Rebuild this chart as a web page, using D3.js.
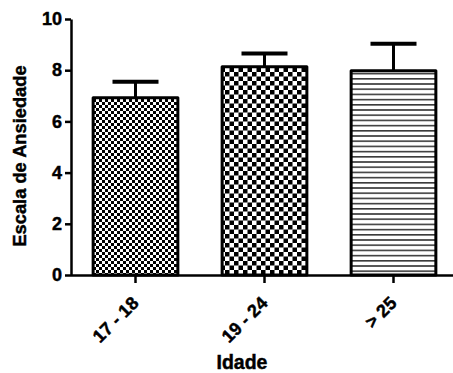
<!DOCTYPE html>
<html>
<head>
<meta charset="utf-8">
<script src="https://cdn.jsdelivr.net/npm/d3@7"></script>
<style>
  html, body { margin: 0; padding: 0; background: #fff; }
  svg { display: block; font-family: "Liberation Sans", Arial, sans-serif; font-weight: bold; }
  text { stroke: #000; stroke-width: 0.45px; fill: #000; }
</style>
</head>
<body>
<svg id="chart" width="453" height="373"></svg>
<script>
// Age groups and anxiety scale means with their error (upper bar)
const categories = ["17 - 18", "19 - 24", "> 25"];
const means = [6.92, 8.13, 7.98];
const errors = [0.63, 0.52, 1.05];
const yTicks = [0, 2, 4, 6, 8, 10];
const patterns = ["checkFine", "checkCoarse", "hLines"];

const svg = d3.select("#chart");
const defs = svg.append("defs");

// fine checkerboard
const p1 = defs.append("pattern").attr("id", "checkFine").attr("patternUnits", "userSpaceOnUse")
  .attr("width", 6).attr("height", 6);
p1.append("rect").attr("width", 6).attr("height", 6).attr("fill", "#fff");
p1.append("rect").attr("width", 3).attr("height", 3).attr("fill", "#000");
p1.append("rect").attr("x", 3).attr("y", 3).attr("width", 3).attr("height", 3).attr("fill", "#000");

// coarse checkerboard
const p2 = defs.append("pattern").attr("id", "checkCoarse").attr("patternUnits", "userSpaceOnUse")
  .attr("width", 9).attr("height", 9);
p2.append("rect").attr("width", 9).attr("height", 9).attr("fill", "#fff");
p2.append("rect").attr("width", 4.5).attr("height", 4.5).attr("fill", "#000");
p2.append("rect").attr("x", 4.5).attr("y", 4.5).attr("width", 4.5).attr("height", 4.5).attr("fill", "#000");

// horizontal stripes
const p3 = defs.append("pattern").attr("id", "hLines").attr("patternUnits", "userSpaceOnUse")
  .attr("width", 10).attr("height", 5.2);
p3.append("rect").attr("width", 10).attr("height", 5.2).attr("fill", "#fff");
p3.append("rect").attr("y", 0).attr("width", 10).attr("height", 1.6).attr("fill", "#3a3a3a");

const plotLeft = 71, plotRight = 453, plotTop = 19, plotBottom = 275;

const y = d3.scaleLinear().domain([0, 10]).range([plotBottom, plotTop]);
const x = d3.scaleBand().domain(categories).range([plotLeft, 458]).paddingInner(0.32).paddingOuter(0.16);

// bars
const g = svg.append("g");
categories.forEach((c, i) => {
  const cx = x(c) + x.bandwidth() / 2;
  const yErr = y(means[i] + errors[i]);
  // error bar
  g.append("line").attr("x1", cx).attr("x2", cx).attr("y1", y(means[i])).attr("y2", yErr)
    .attr("stroke", "#000").attr("stroke-width", 3);
  g.append("line").attr("x1", cx - 23).attr("x2", cx + 23).attr("y1", yErr).attr("y2", yErr)
    .attr("stroke", "#000").attr("stroke-width", 4);
  g.append("rect")
    .attr("x", x(c) + 1.5).attr("y", y(means[i]))
    .attr("width", x.bandwidth() - 3).attr("height", y(0) - y(means[i]))
    .attr("fill", `url(#${patterns[i]})`)
    .attr("stroke", "#000").attr("stroke-width", 3)
    .attr("stroke-linejoin", "round");
});

// y axis
const yAxis = svg.append("g").attr("transform", `translate(${plotLeft},0)`)
  .call(d3.axisLeft(y).tickValues(yTicks).tickSize(6).tickPadding(3).tickSizeOuter(0));
yAxis.select(".domain").attr("stroke-width", 2.5).attr("stroke", "#000");
yAxis.selectAll(".tick line").attr("stroke-width", 2.5).attr("stroke", "#000");
yAxis.selectAll(".tick text").attr("font-size", 18).attr("font-weight", "bold")
  .attr("font-family", "Liberation Sans, Arial, sans-serif").attr("fill", "#000");

// x axis
const xAxis = svg.append("g").attr("transform", `translate(0,${plotBottom})`)
  .call(d3.axisBottom(x).tickSize(8).tickSizeOuter(0));
xAxis.select(".domain").attr("d", `M${plotLeft},0.5H${plotRight}`).attr("stroke-width", 2.5).attr("stroke", "#000");
xAxis.selectAll(".tick line").attr("stroke-width", 2.5).attr("stroke", "#000");
xAxis.selectAll(".tick text")
  .attr("font-size", 18).attr("font-weight", "bold")
  .attr("font-family", "Liberation Sans, Arial, sans-serif").attr("fill", "#000")
  .attr("text-anchor", "end")
  .attr("dy", "0.35em")
  .attr("transform", "translate(-8,17) rotate(-45)");

// axis titles
svg.append("text").attr("x", 242).attr("y", 369).attr("text-anchor", "middle")
  .attr("font-size", 19.5).text("Idade");
svg.append("text").attr("transform", "translate(26,156) rotate(-90)").attr("text-anchor", "middle")
  .attr("font-size", 18.3).text("Escala de Ansiedade");
</script>
</body>
</html>
